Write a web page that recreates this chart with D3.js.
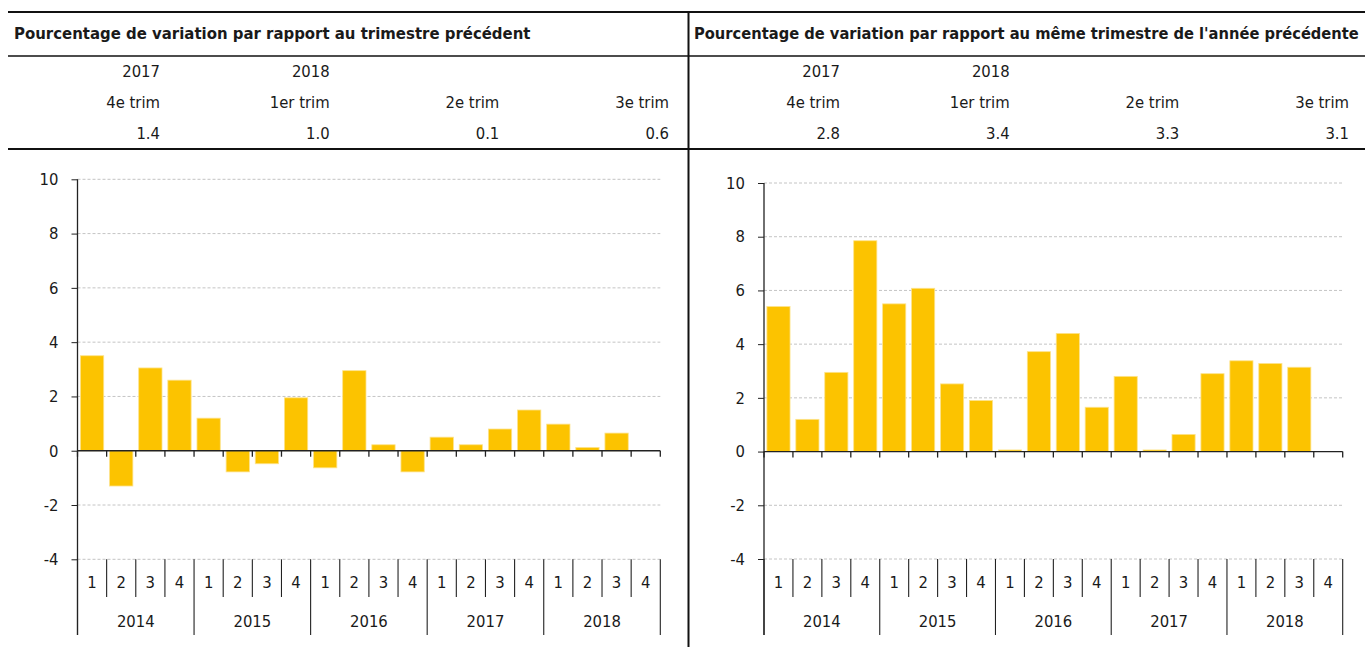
<!DOCTYPE html>
<html>
<head>
<meta charset="utf-8">
<script src="https://cdn.jsdelivr.net/npm/d3@7"></script>
<style>
  body { margin: 0; background: #fff; overflow: hidden; }
  text { font-family: "Liberation Sans Narrow", "DejaVu Sans Condensed", "Roboto", sans-serif; fill: #1a1a1a; }
</style>
</head>
<body>
<script>
// ---- data ----
const years = ["2014", "2015", "2016", "2017", "2018"];
const quarters = ["1", "2", "3", "4"];
const qoqValues = [3.5, -1.3, 3.05, 2.6, 1.2, -0.78, -0.48, 1.95, -0.63, 2.95, 0.22, -0.78, 0.5, 0.22, 0.8, 1.5, 0.98, 0.12, 0.65, null];
const yoyValues = [5.4, 1.2, 2.95, 7.85, 5.5, 6.08, 2.52, 1.9, 0.06, 3.72, 4.4, 1.65, 2.8, 0.06, 0.64, 2.9, 3.38, 3.28, 3.14, null];
const yTicks = [-4, -2, 0, 2, 4, 6, 8, 10];

const headYears = ["2017", "2018", "", ""];
const headQuarters = ["4e trim", "1er trim", "2e trim", "3e trim"];
const qoqHead = ["1.4", "1.0", "0.1", "0.6"];
const yoyHead = ["2.8", "3.4", "3.3", "3.1"];

const titleLeft = "Pourcentage de variation par rapport au trimestre précédent";
const titleRight = "Pourcentage de variation par rapport au même trimestre de l'année précédente";

/* -----------------------------------------------------
 *  SVG + frame
 ----------------------------------------------------- */
const width = 1365;
const height = 647;
const barColor = "#fcc300";
const fs = "16.5px";

const svg = d3.select("body").append("svg")
  .attr("width", width)
  .attr("height", height);

// keys like "2014-1"
const keys = [];
years.forEach((y) => quarters.forEach((q) => keys.push(y + "-" + q)));

function drawHeader(x0, title, headVals) {
  const size = 16.6;
  const t = svg.append("text")
    .attr("x", x0 + 14)
    .attr("y", 34)
    .attr("dominant-baseline", "middle")
    .style("font-size", size + "px")
    .style("font-weight", "bold")
    .text(title);
  // shrink the title a bit if it would run off the page
  const maxW = width - 6 - (x0 + 14);
  const len = t.node().getComputedTextLength();
  if (len > maxW) {
    t.style("font-size", (size * maxW / len).toFixed(2) + "px");
  }

  const col = d3.scalePoint()
    .domain(d3.range(headQuarters.length))
    .range([x0 + 160, x0 + 669]);

  const rows = [
    { y: 72, vals: headYears },
    { y: 103, vals: headQuarters },
    { y: 134, vals: headVals },
  ];
  rows.forEach((r) => {
    svg.append("g").selectAll("text")
      .data(r.vals)
      .enter()
      .append("text")
      .attr("x", (d, i) => col(i))
      .attr("y", r.y)
      .attr("text-anchor", "end")
      .attr("dominant-baseline", "middle")
      .style("font-size", fs)
      .text((d) => d);
  });
}

function drawPanel(opt) {
  const { xl, xr, yTop, yBot, values } = opt;
  const g = svg.append("g");

  const x = d3.scaleBand()
    .domain(keys)
    .range([xl, xr])
    .paddingInner(0.2)
    .paddingOuter(0.1);
  const y = d3.scaleLinear().domain([-4, 10]).range([yBot, yTop]);
  const step = x.step();
  const cellStart = (k) => x(k) - (step - x.bandwidth()) / 2;

  // gridlines
  g.selectAll(".grid")
    .data(yTicks.filter((d) => d !== 0))
    .enter()
    .append("line")
    .attr("x1", xl)
    .attr("x2", xr)
    .attr("y1", (d) => y(d))
    .attr("y2", (d) => y(d))
    .attr("stroke", "#c4c4c4")
    .attr("stroke-width", 1)
    .attr("stroke-dasharray", "3,2");

  // bars
  const data = keys.map((k, i) => ({ k, v: values[i] })).filter((d) => d.v != null);
  g.selectAll(".bar")
    .data(data)
    .enter()
    .append("rect")
    .attr("x", (d) => x(d.k))
    .attr("width", x.bandwidth())
    .attr("y", (d) => y(Math.max(0, d.v)))
    .attr("height", (d) => Math.abs(y(d.v) - y(0)))
    .attr("fill", barColor)
    .attr("stroke", "#fde38c")
    .attr("stroke-width", 0.8);

  // y axis
  const yAxis = d3.axisLeft(y).tickValues(yTicks).tickSize(6).tickPadding(13);
  const ya = g.append("g").attr("transform", `translate(${xl},0)`).call(yAxis);
  ya.select(".domain").remove();
  ya.selectAll(".tick line").attr("stroke", "#222");
  ya.selectAll("text")
    .style("font-size", fs)
    .attr("fill", "#1a1a1a")
    .text((d) => (d < 0 ? "-" + Math.abs(d) : d));

  // axis lines
  g.append("line")
    .attr("x1", xl).attr("x2", xl)
    .attr("y1", y(10)).attr("y2", 635)
    .attr("stroke", "#222").attr("stroke-width", 1.3);
  g.append("line")
    .attr("x1", xl).attr("x2", xr)
    .attr("y1", y(0)).attr("y2", y(0))
    .attr("stroke", "#222").attr("stroke-width", 1.3);

  // small ticks on zero line
  const bounds = keys.map(cellStart).concat([xr]);
  g.selectAll(".ztick")
    .data(bounds)
    .enter()
    .append("line")
    .attr("x1", (d) => d).attr("x2", (d) => d)
    .attr("y1", y(0)).attr("y2", y(0) + 6)
    .attr("stroke", "#222").attr("stroke-width", 1.3);

  // category separators below -4
  g.selectAll(".sep")
    .data(bounds.map((b, i) => ({ b, yearEdge: i % 4 === 0 })))
    .enter()
    .append("line")
    .attr("x1", (d) => d.b).attr("x2", (d) => d.b)
    .attr("y1", y(-4))
    .attr("y2", (d) => (d.yearEdge ? 635 : 597))
    .attr("stroke", "#222").attr("stroke-width", 1.1);

  // quarter labels
  g.selectAll(".qlab")
    .data(keys)
    .enter()
    .append("text")
    .attr("x", (k) => x(k) + x.bandwidth() / 2)
    .attr("y", 583)
    .attr("text-anchor", "middle")
    .attr("dominant-baseline", "middle")
    .style("font-size", fs)
    .text((k) => k.split("-")[1]);

  // year labels
  g.selectAll(".ylab")
    .data(years)
    .enter()
    .append("text")
    .attr("x", (yr) => (cellStart(yr + "-1") + cellStart(yr + "-4") + step) / 2)
    .attr("y", 622)
    .attr("text-anchor", "middle")
    .attr("dominant-baseline", "middle")
    .style("font-size", fs)
    .text((yr) => yr);
}

drawHeader(0, titleLeft, qoqHead);
drawHeader(680, titleRight, yoyHead);

drawPanel({ xl: 77.5, xr: 660.3, yTop: 179.3, yBot: 559.3, values: qoqValues });
drawPanel({ xl: 764, xr: 1342.7, yTop: 183, yBot: 559, values: yoyValues });

// frame lines
svg.append("line").attr("x1", 8).attr("x2", width).attr("y1", 12).attr("y2", 12)
  .attr("stroke", "#111").attr("stroke-width", 2);
svg.append("line").attr("x1", 8).attr("x2", width).attr("y1", 56).attr("y2", 56)
  .attr("stroke", "#111").attr("stroke-width", 1.5);
svg.append("line").attr("x1", 8).attr("x2", width).attr("y1", 149).attr("y2", 149)
  .attr("stroke", "#111").attr("stroke-width", 2);
svg.append("line").attr("x1", 688.5).attr("x2", 688.5).attr("y1", 12).attr("y2", height)
  .attr("stroke", "#111").attr("stroke-width", 2);
</script>
</body>
</html>
